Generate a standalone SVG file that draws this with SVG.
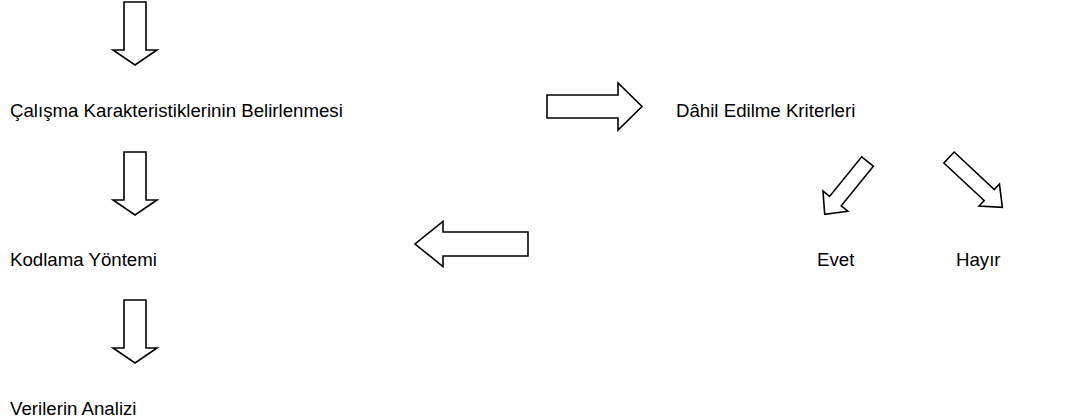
<svg xmlns="http://www.w3.org/2000/svg" width="1075" height="419" viewBox="0 0 1075 419">
<style>
.t{font-family:"Liberation Sans",Arial,sans-serif;font-size:18.67px;fill:#000}
.a{fill:#fff;stroke:#000;stroke-width:1.6;stroke-linejoin:miter}
</style>
<rect width="1075" height="419" fill="#fff"/>
<g id="connectors">
<polygon class="a" transform="translate(135,2) rotate(90)" points="0,-11 48,-11 48,-22 63,0 48,22 48,11 0,11"/>
<polygon class="a" transform="translate(135,152) rotate(90)" points="0,-11 48,-11 48,-22 63,0 48,22 48,11 0,11"/>
<polygon class="a" transform="translate(135,300) rotate(90)" points="0,-11 48,-11 48,-22 63,0 48,22 48,11 0,11"/>
<polygon class="a" transform="translate(547,106.5)" points="0,-11.5 71,-11.5 71,-23.5 95,0 71,23.5 71,11.5 0,11.5"/>
<polygon class="a" transform="translate(528,244) rotate(180)" points="0,-12 85,-12 85,-22.5 113,0 85,22.5 85,12 0,12"/>
<polygon class="a" transform="translate(867.5,161.5) rotate(129)" points="0,-7.5 51,-7.5 51,-16 68,0 51,16 51,7.5 0,7.5"/>
<polygon class="a" transform="translate(949,157.5) rotate(43)" points="0,-7.5 55,-7.5 55,-15 73,0 55,15 55,7.5 0,7.5"/>
</g>
<g id="n1"><text class="t" x="10" y="117">Çalışma Karakteristiklerinin Belirlenmesi</text></g>
<g id="n2"><text class="t" x="676" y="117">Dâhil Edilme Kriterleri</text></g>
<g id="n3"><text class="t" x="10" y="266">Kodlama Yöntemi</text></g>
<g id="n4"><text class="t" x="817" y="266">Evet</text></g>
<g id="n5"><text class="t" x="956" y="266">Hayır</text></g>
<g id="n6"><text class="t" x="10" y="415">Verilerin Analizi</text></g>
</svg>
